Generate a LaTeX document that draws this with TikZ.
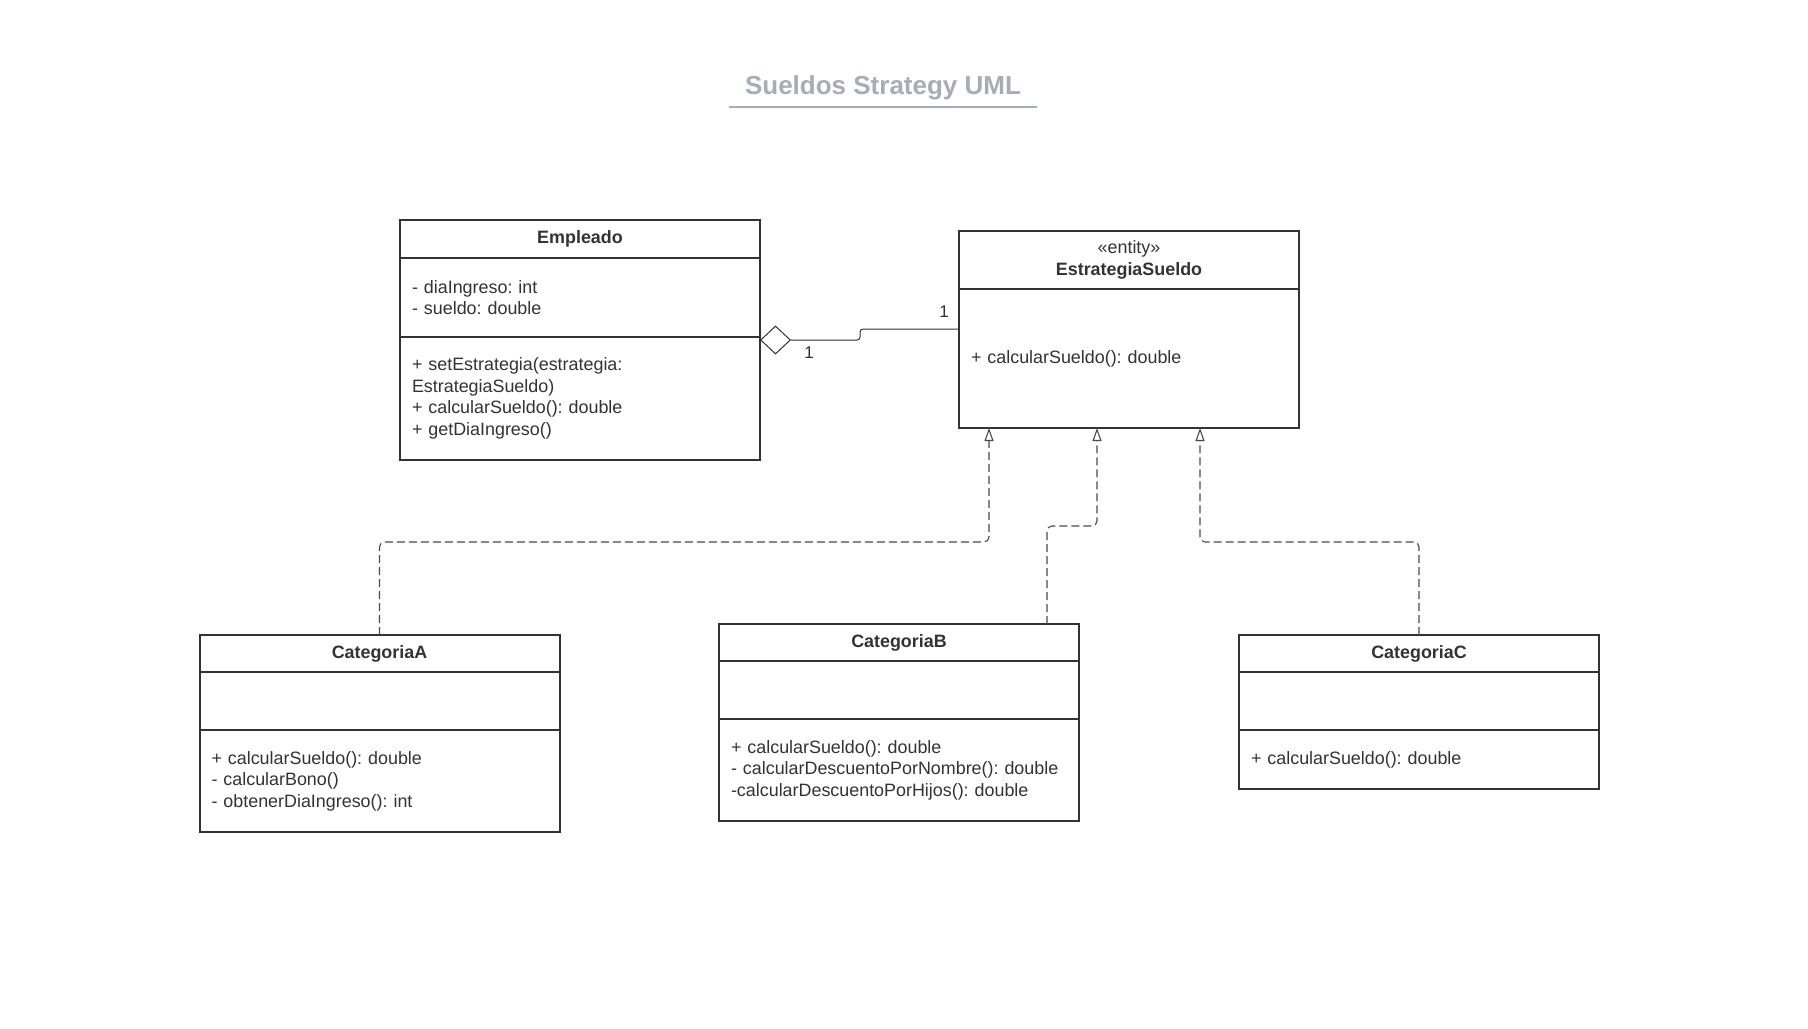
\documentclass[tikz,border=0pt]{standalone}
\usepackage{fontspec}
\setmainfont{Liberation Sans}
\usetikzlibrary{positioning,arrows.meta}
\definecolor{linea}{HTML}{333333}
\definecolor{gristitulo}{HTML}{A7ACB6}
\definecolor{guion}{HTML}{4A4A4A}
\frenchspacing

\begin{document}
\begin{tikzpicture}[x=0.5pt, y=0.5pt,
    caja/.style={draw=linea, line width=1pt, text=linea, inner xsep=6pt, inner ysep=0pt, outer sep=0pt,
        font=\fontsize{8.95}{10.8}\selectfont},
    nombre/.style={caja, font=\fontsize{8.95}{10.8}\selectfont\bfseries, align=center},
    lista/.style={caja, align=left},
    realiza/.style={guion, line width=0.55pt, dash pattern=on 4pt off 2pt, rounded corners=2.5pt,
        -{Triangle[open, width=4.5pt, length=6.5pt]}},
    agrega/.style={linea, line width=0.5pt, rounded corners=1.5pt,
        {Diamond[open, width=14.5pt, length=15.5pt]}-}]

    \fill[white] (0,0) rectangle (1808,-1028);
    \useasboundingbox (0,0) rectangle (1808,-1028);

    \node[font=\fontsize{13}{15}\selectfont\bfseries, text=gristitulo, anchor=base, inner xsep=8pt] (titulo) at (883,-94) {Sueldos Strategy UML};
    \draw[gristitulo, line width=1pt] ([yshift=-6.5pt]titulo.base west) -- ([yshift=-6.5pt]titulo.base east);

    \node[nombre, text width=168pt, minimum height=19pt, anchor=north west] (emp) at (400,-220) {Empleado};
    \node[lista, text width=168pt, minimum height=39.5pt, below=0pt of emp] (emp-atr) {- diaIngreso: int\\- sueldo: double};
    \node[lista, text width=168pt, minimum height=61.5pt, below=0pt of emp-atr] (emp-op)
        {+ setEstrategia(estrategia:\\EstrategiaSueldo)\\+ calcularSueldo(): double\\+ getDiaIngreso()};

    \node[nombre, text width=158pt, minimum height=29pt, anchor=north west] (est) at (959,-231) {{\mdseries «entity»}\\EstrategiaSueldo};
    \node[lista, text width=158pt, minimum height=69.5pt, below=0pt of est] (est-cuerpo) {+ calcularSueldo(): double};

    \node[nombre, text width=168pt, minimum height=18.5pt, anchor=north west] (catA) at (199.5,-635) {CategoriaA};
    \node[lista, text width=168pt, minimum height=29pt, below=0pt of catA] (catA-atr) {};
    \node[lista, text width=168pt, minimum height=51pt, below=0pt of catA-atr] (catA-op)
        {+ calcularSueldo(): double\\- calcularBono()\\- obtenerDiaIngreso(): int};

    \node[nombre, text width=168pt, minimum height=18.5pt, anchor=north west] (catB) at (719,-624) {CategoriaB};
    \node[lista, text width=168pt, minimum height=29pt, below=0pt of catB] (catB-atr) {};
    \node[lista, text width=168pt, minimum height=51pt, below=0pt of catB-atr] (catB-op)
        {+ calcularSueldo(): double\\- calcularDescuentoPorNombre(): double\\-calcularDescuentoPorHijos(): double};

    \node[nombre, text width=168pt, minimum height=18.5pt, anchor=north west] (catC) at (1239,-635) {CategoriaC};
    \node[lista, text width=168pt, minimum height=29pt, below=0pt of catC] (catC-atr) {};
    \node[lista, text width=168pt, minimum height=29.5pt, below=0pt of catC-atr] (catC-op) {+ calcularSueldo(): double};

    \draw[agrega] ([yshift=-1.5pt]emp-op.north east) -- ++(100,0) |- ([yshift=14.75pt]est-cuerpo.west);
    \node[font=\fontsize{8.5}{10}\selectfont, text=linea] (mult-emp) at (809,-353) {1};
    \node[font=\fontsize{8.5}{10}\selectfont, text=linea] (mult-est) at (944,-312) {1};

    \draw[realiza] (catA.north) -- ++(0,93) -| ([xshift=15pt]est-cuerpo.south west);
    \draw[realiza] ([xshift=-16pt]catB.north east) -- ++(0,98) -| ([xshift=69pt]est-cuerpo.south west);
    \draw[realiza] (catC.north) -- ++(0,93) -| ([xshift=120.5pt]est-cuerpo.south west);
\end{tikzpicture}
\end{document}
